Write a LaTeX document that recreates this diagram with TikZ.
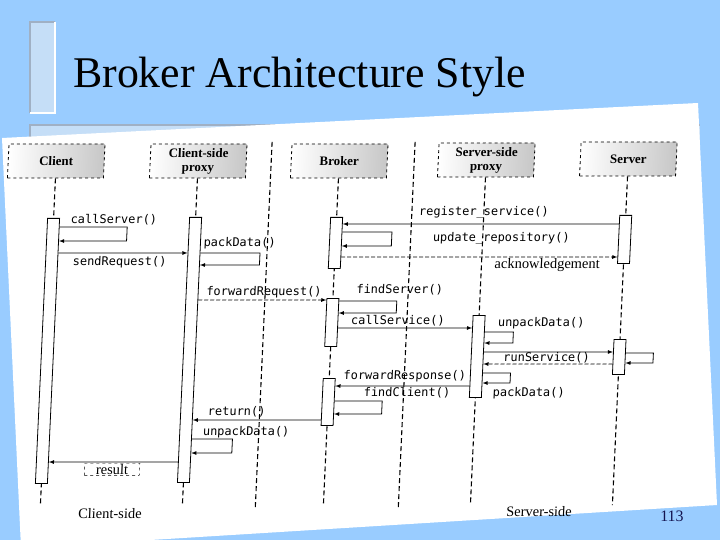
\documentclass[tikz,border=0pt]{standalone}
\usepackage{fontspec}
\setmainfont{Liberation Serif}
\setmonofont{DejaVu Sans Mono}
\usetikzlibrary{positioning}
\definecolor{slideblue}{RGB}{153,204,255}
\definecolor{barblue}{RGB}{197,222,247}
\definecolor{bargray}{RGB}{160,176,196}
\definecolor{navy}{RGB}{20,20,80}
\tikzset{
  obj/.style={draw,dashed,line width=0.8bp,minimum width=96bp,minimum height=34bp,
    left color=white,right color=black!22,align=center,inner sep=1bp,
    font=\fontsize{13}{14}\selectfont\bfseries},
  life/.style={line width=1.1bp,dash pattern=on 5bp off 3bp},
  act/.style={draw,fill=white,line width=0.8bp,minimum width=12bp,inner sep=0pt,anchor=north},
  msg/.style={line width=0.8bp,-latex},
  ret/.style={msg,dash pattern=on 4bp off 2bp},
  call/.style={font=\fontsize{12}{12}\ttfamily,anchor=west,inner sep=1bp},
  note/.style={font=\fontsize{14.5}{15}\selectfont,inner sep=1bp}
}
\begin{document}
\begin{tikzpicture}[x=1bp,y=-1bp]
  % slide background
  \useasboundingbox (0,0) rectangle (720,540);
  \fill[slideblue] (0,0) rectangle (720,540);
  % decorative bars
  \fill[barblue] (30,22) rectangle (55,113);
  \draw[bargray,line width=2bp] (30,113) |- (55,22);
  \draw[white,line width=2bp] (30,113) -| (55,22);
  \fill[barblue] (30,125) rectangle (700,170);
  \draw[bargray,line width=2bp] (30,170) |- (700,125);
  % title
  \node[anchor=base west,inner sep=0pt,font=\fontsize{44}{44}\selectfont] (title) at (73,88)
    {Broker Architecture Style};
  % scanned page
  \fill[white] (2,138) -- (698,103) -- (717,505) -- (21,548) -- cycle;
  \node[font=\fontsize{16}{16}\selectfont,text=navy] (pagenum) at (672,516) {113};

  \begin{scope}[transform canvas={xshift=15.64bp,xslant=0.046}]
    % objects
    \node[obj] (client) at (48,161) {Client};
    \node[obj] (csproxy) at (190,161) {Client-side\\proxy};
    \node[obj] (broker) at (331,161) {Broker};
    \node[obj] (ssproxy) at (478,160) {Server-side\\proxy};
    \node[obj] (server) at (620,159) {Server};
    % lifelines
    \foreach \n/\x in {client/48,csproxy/190,broker/331,ssproxy/478,server/620}
      \draw[life] (\n.south) -- (\x,505);
    % client-side / server-side borders
    \draw[life] (263,142) -- (263,507);
    \draw[life] (406,142) -- (406,507);
    % activations
    \node[act,minimum height=265bp] (cbar) at (48,218) {};
    \node[act,minimum height=265bp] (cpbar) at (190,217) {};
    \node[act,minimum height=51bp] (bbara) at (331,217) {};
    \node[act,minimum height=48bp] (bbarb) at (331,298) {};
    \node[act,minimum height=47bp] (bbarc) at (331,378) {};
    \node[act,minimum height=82bp] (spbar) at (478,315) {};
    \node[act,minimum height=48bp] (sbara) at (620,215) {};
    \node[act,minimum height=35bp] (sbarb) at (620,339) {};

    % registration
    \draw[msg] (sbara.west |- 0,224) -- (bbara.east |- 0,224);
    \node[call] (regserv) at (412,212) {register\_service()};
    \draw[msg] (bbara.east |- 0,232) -| (387,246) -- (bbara.east |- 0,246);
    \node[call] (updrepo) at (427,238) {update\_repository()};
    \draw[ret] (bbara.east |- 0,257) -- (sbara.west |- 0,257);
    \node[note,anchor=west] (ack) at (490,265) {acknowledgement};

    % client calls
    \draw[msg] (cbar.east |- 0,227) -| (122,241) -- (cbar.east |- 0,241);
    \node[call] (callserv) at (64,220) {callServer()};
    \draw[msg] (cbar.east |- 0,253) -- (cpbar.west |- 0,253);
    \node[call] (sendreq) at (68,262) {sendRequest()};
    \draw[msg] (cpbar.east |- 0,253) -| (256,265) -- (cpbar.east |- 0,265);
    \node[call] (packc) at (198,243) {packData()};
    \draw[ret] (cpbar.east |- 0,300) -- (bbarb.west |- 0,300);
    \node[call] (fwdreq) at (203,292) {forwardRequest()};

    % broker to server
    \draw[msg] (bbarb.east |- 0,301) -| (395,313) -- (bbarb.east |- 0,313);
    \node[call] (findserv) at (353,290) {findServer()};
    \draw[msg] (bbarb.east |- 0,328) -- (spbar.west |- 0,328);
    \node[call] (callsvc) at (349,321) {callService()};
    \draw[msg] (spbar.east |- 0,332) -| (513,343) -- (spbar.east |- 0,343);
    \node[call] (unpacks) at (496,323) {unpackData()};
    \draw[msg] (spbar.east |- 0,352) -- (sbarb.west |- 0,352);
    \node[call] (runsvc) at (503,358) {runService()};
    \draw[msg] (sbarb.east |- 0,353) -| (654,363) -- (sbarb.east |- 0,363);
    \draw[ret] (sbarb.west |- 0,364) -- (spbar.east |- 0,364);

    % response
    \draw[msg] (spbar.east |- 0,373) -| (512,383) -- (spbar.east |- 0,383);
    \node[call] (packs) at (494,393) {packData()};
    \draw[msg] (spbar.west |- 0,386) -- (bbarc.east |- 0,386);
    \node[call] (fwdresp) at (344,376) {forwardResponse()};
    \draw[msg] (bbarc.east |- 0,401) -| (385,414) -- (bbarc.east |- 0,414);
    \node[call] (findcl) at (365,393) {findClient()};
    \draw[msg] (bbarc.west |- 0,420) -- (cpbar.east |- 0,420);
    \node[call] (retn) at (210,412) {return()};
    \draw[msg] (cpbar.east |- 0,439) -| (237,453) -- (cpbar.east |- 0,453);
    \node[call] (unpackc) at (206,432) {unpackData()};
    \draw[msg] (cpbar.west |- 0,462) -- (cbar.east |- 0,462);
    \node[note,draw,dashed,anchor=north,minimum width=55bp] (result) at (118,463) {result};

    % sides
    \node[note] (clientside) at (118,514) {Client-side};
    \node[note] (serverside) at (547,512) {Server-side};
  \end{scope}
\end{tikzpicture}
\end{document}
